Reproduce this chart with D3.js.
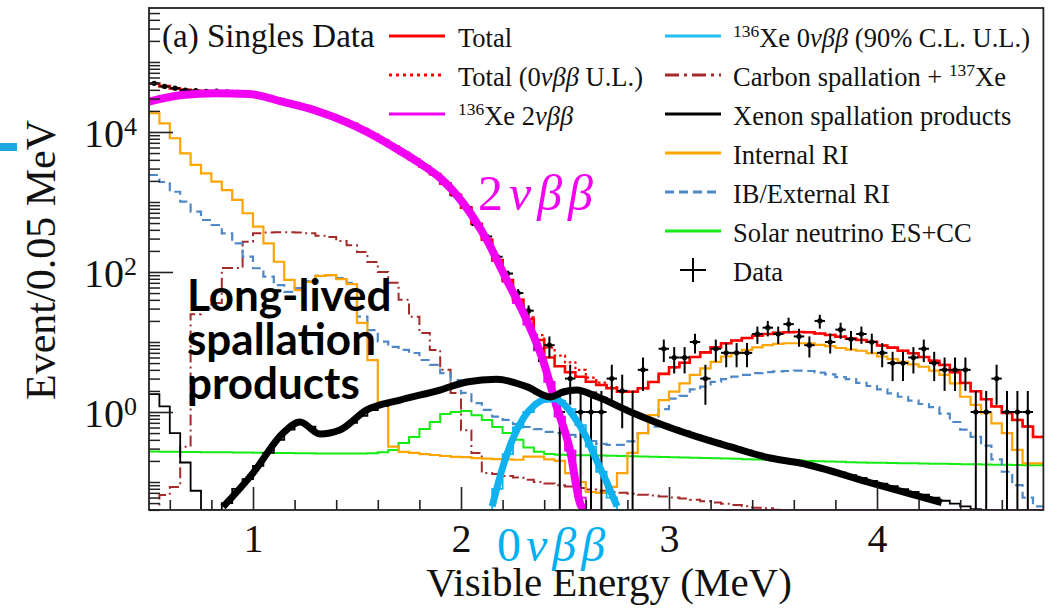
<!DOCTYPE html>
<html>
<head>
<meta charset="utf-8">
<script src="https://cdn.jsdelivr.net/npm/d3@7"></script>
<style>
  html, body { margin: 0; padding: 0; background: #fff; }
  svg { display: block; }
</style>
</head>
<body>
<svg id="chart" width="1064" height="616"></svg>
<script>
// ---- Binning (0.05 MeV bins, 0.5 - 4.8 MeV) ----
const binLow = 0.5;
const binWidth = 0.05;

// ---- Histogram contents, events / 0.05 MeV, one value per bin ----
const internalRI = [
  18500, 13300, 8130, 4960, 3380, 2570, 1950, 1480, 1070, 690,
  444, 257, 140, 77, 55, 72, 88, 90, 79, 67,
  18.7, 5.5, 1.39, 0.32, 0.27, 0.26, 0.25, 0.243, 0.235, 0.228,
  0.226, 0.22, 0.216, 0.212, 0.21, 0.208, 0.23, 0.23, 0.21, 0.2,
  0.134, 0.1, 0.072, 0.07, 0.085, 0.134, 0.26, 0.5, 0.9, 1.48,
  1.95, 2.57, 3.38, 4.2, 5.2, 6.2, 6.9, 7.7, 8.4, 9.0,
  9.4, 9.6, 9.6, 9.6, 9.1, 8.7, 8.2, 7.8, 7.5, 6.9,
  6.2, 5.7, 5.2, 4.8, 4.43, 3.9, 3.38, 2.57, 1.65, 1.26,
  0.96, 0.69, 0.5, 0.287, 0.185, 0.185
];

const externalRI = [
  2430, 1930, 1400, 1010, 727, 553, 469, 357, 257, 166,
  113, 86, 65, 52, 59, 74, 88, 90, 82, 70,
  23, 14.8, 10.1, 8.5, 7.7, 6.96, 5.53, 4.7, 3.6, 2.86,
  1.87, 1.34, 1.07, 0.86, 0.77, 0.67, 0.61, 0.57, 0.52, 0.5,
  0.47, 0.44, 0.385, 0.35, 0.34, 0.34, 0.38, 0.5, 0.62, 1.1,
  1.55, 1.7, 2.1, 2.3, 2.7, 2.95, 3.2, 3.38, 3.6, 3.72,
  3.8, 3.85, 3.9, 3.85, 3.65, 3.45, 3.15, 2.95, 2.6, 2.35,
  2.1, 1.85, 1.65, 1.45, 1.3, 1.17, 0.95, 0.72, 0.56, 0.44,
  0.33, 0.21, 0.14, 0.09, 0.06, 0.045
];

const carbonSpallation = [
  0.03, 0.065, 0.085, 0.32, 25, 30, 36, 114, 114, 271,
  357, 365, 370, 370, 365, 357, 328, 316, 277, 241,
  193, 139, 100, 70, 40, 23, 13.4, 7.7, 4.0, 1.87,
  0.55, 0.26, 0.134, 0.13, 0.122, 0.116, 0.108, 0.1, 0.095, 0.09,
  0.086, 0.082, 0.078, 0.075, 0.072, 0.07, 0.068, 0.066, 0.064, 0.062,
  0.06, 0.058, 0.056, 0.053, 0.051, 0.049, 0.047, 0.045, 0.043, 0.042,
  0.04, 0.039, 0.038, 0.036, 0.035, 0.03, 0.03, 0.03, 0.03, 0.03,
  0.03, 0.03, 0.03, 0.03, 0.03, 0.03, 0.03, 0.03, 0.03, 0.03,
  0.03, 0.03, 0.03, 0.03, 0.03, 0.03
];

const solarNu = [
  0.272, 0.271, 0.27, 0.269, 0.268, 0.267, 0.266, 0.265, 0.264, 0.263,
  0.262, 0.261, 0.26, 0.259, 0.258, 0.257, 0.256, 0.255, 0.255, 0.255,
  0.256, 0.258, 0.265, 0.287, 0.36, 0.44, 0.57, 0.72, 0.94, 1.0,
  1.03, 0.9, 0.77, 0.61, 0.5, 0.4, 0.31, 0.27, 0.252, 0.245,
  0.243, 0.242, 0.241, 0.24, 0.238, 0.236, 0.234, 0.232, 0.23, 0.228,
  0.226, 0.224, 0.222, 0.22, 0.218, 0.216, 0.214, 0.212, 0.21, 0.208,
  0.206, 0.204, 0.202, 0.2, 0.198, 0.196, 0.194, 0.192, 0.19, 0.189,
  0.188, 0.187, 0.186, 0.185, 0.184, 0.183, 0.182, 0.181, 0.18, 0.179,
  0.178, 0.177, 0.176, 0.175, 0.174, 0.173
];

const xeSpallationHist = [
  1.8, 1.2, 0.5, 0.19, 0.075, 0.02, 0.02, 0.05, 0.08, 0.11,
  0.17, 0.26, 0.4, 0.56, 0.7, 0.62, 0.5, 0.5, 0.57, 0.7,
  0.88, 1.06, 1.22, 1.37, 1.52, 1.67, 1.83, 1.98, 2.15, 2.36,
  2.6, 2.78, 2.88, 2.9, 2.8, 2.55, 2.2, 1.85, 1.62, 1.78,
  1.95, 2.02, 1.9, 1.6, 1.35, 1.15, 0.98, 0.85, 0.74, 0.66,
  0.59, 0.53, 0.47, 0.42, 0.38, 0.34, 0.31, 0.28, 0.255, 0.232,
  0.214, 0.2, 0.188, 0.174, 0.16, 0.148, 0.136, 0.125, 0.114, 0.104,
  0.095, 0.087, 0.079, 0.072, 0.066, 0.06, 0.054, 0.049, 0.045, 0.041,
  0.038, 0.035, 0.032, 0.03, 0.028, 0.026
];

const twoNuHist = [
  28000, 30000, 32200, 34000, 34600, 35200, 35700, 35600, 35400, 35050,
  32600, 30100, 27700, 25500, 23300, 21300, 19000, 16700, 14700, 12700,
  10800, 9040, 7430, 6110, 4970, 4020, 3190, 2500, 1830, 1260,
  825, 483, 286, 143, 72, 36, 17.7, 7.6, 2.7, 0.86,
  0.28, 0.06, 0, 0, 0, 0, 0, 0, 0, 0,
  0, 0, 0, 0, 0, 0, 0, 0, 0, 0,
  0, 0, 0, 0, 0, 0, 0, 0, 0, 0,
  0, 0, 0, 0, 0, 0, 0, 0, 0, 0,
  0, 0, 0, 0, 0, 0
];

// 0nbb upper-limit histogram, bins from 2.10 MeV
const zeroNuHistStart = 2.10;
const zeroNuHist = [0, 0.08, 0.25, 0.6, 1.0, 1.38, 1.55, 1.45, 1.1, 0.65, 0.32, 0.14, 0.06, 0.03, 0];

const totalFit = [
  48900, 45200, 41700, 40000, 38700, 38350, 38150, 37550, 36840, 36180,
  33510, 30810, 28280, 26000, 23780, 21800, 19500, 17200, 15140, 13080,
  11035, 9200, 7540, 6190, 5020, 4050, 3210, 2512, 1840, 1266,
  830, 488, 291, 148, 76.5, 40, 21.2, 10.7, 6.0, 4.5,
  3.7, 3.19, 2.71, 2.43, 2.18, 1.95, 1.95, 2.18, 2.68, 3.5,
  4.35, 5.05, 6.1, 7.1, 8.4, 9.6, 10.5, 11.4, 12.3, 13.0,
  13.5, 13.8, 13.9, 13.8, 13.2, 12.6, 11.9, 11.2, 10.7, 10.1,
  8.9, 8.3, 7.5, 6.9, 6.1, 5.4, 4.7, 3.7, 2.6, 1.98,
  1.52, 1.2, 0.97, 0.77, 0.62, 0.44
];

const totalWithUL = [
  48900, 45200, 41700, 40000, 38700, 38350, 38150, 37550, 36840, 36180,
  33510, 30810, 28280, 26000, 23780, 21800, 19500, 17200, 15140, 13080,
  11035, 9200, 7540, 6190, 5020, 4050, 3210, 2512, 1840, 1266,
  830, 488, 291, 148, 76.5, 40, 22.5, 12.5, 8.3, 6.4,
  5.1, 4.0, 3.1, 2.62, 2.26, 1.98, 1.95, 2.18, 2.68, 3.5,
  4.35, 5.05, 6.1, 7.1, 8.4, 9.6, 10.5, 11.4, 12.3, 13.0,
  13.5, 13.8, 13.9, 13.8, 13.2, 12.6, 11.9, 11.2, 10.7, 10.1,
  8.9, 8.3, 7.5, 6.9, 6.1, 5.4, 4.7, 3.7, 2.6, 1.98,
  1.52, 1.2, 0.97, 0.77, 0.62, 0.44
];

// Observed counts per bin
const dataCounts = [
  49500, 44800, 42300, 39600, 38900, 38100, 38400, 37300, 36900, 36000,
  33700, 30600, 28500, 25800, 23900, 21600, 19700, 17000, 15300, 12900,
  11100, 9150, 7600, 6150, 5080, 3990, 3260, 2470, 1870, 1240,
  845, 470, 320, 165, 95, 50, 28, 8, 9, 1,
  3, 1, 1, 1, 3, 2, 1, 4, 0, 8,
  6, 6, 10, 3, 8, 7, 7, 7, 13, 16,
  13, 18, 12, 9, 20, 10, 15, 11, 13, 10,
  7, 5, 5, 6, 8, 5, 4, 4, 4, 1,
  1, 3, 1, 1, 1, 0
];

// ---- Smooth model curves: [energy MeV, events / 0.05 MeV] ----
const twoNuCurveE = [0.5, 0.66, 0.82, 0.98, 1.14, 1.30, 1.46, 1.56, 1.70, 1.80, 1.90, 2.01, 2.124, 2.22, 2.316, 2.394, 2.46, 2.524, 2.572, 2.59];
const twoNuCurveV = [27100, 33800, 35700, 35000, 27100, 20300, 13400, 9600, 5530, 3600, 2200, 968, 287, 77, 20.6, 5.5, 1.19, 0.286, 0.05, 0.03];

const zeroNuCurveE = [2.15, 2.20, 2.25, 2.30, 2.35, 2.40, 2.45, 2.50, 2.55, 2.60, 2.65, 2.70, 2.75];
const zeroNuCurveV = [0.045, 0.16, 0.42, 0.82, 1.22, 1.5, 1.55, 1.25, 0.8, 0.45, 0.21, 0.1, 0.045];

const xeSpallCurveE = [0.856, 1.0, 1.144, 1.226, 1.322, 1.418, 1.547, 1.707, 1.899, 2.027, 2.172, 2.316, 2.428, 2.49, 2.556, 2.652, 2.813, 2.971, 3.133, 3.293, 3.486, 3.63, 3.966, 4.311];
const xeSpallCurveV = [0.044, 0.134, 0.5, 0.72, 0.485, 0.553, 1.07, 1.48, 2.06, 2.68, 2.93, 2.30, 1.64, 1.93, 2.06, 1.66, 1.01, 0.652, 0.444, 0.319, 0.22, 0.187, 0.098, 0.0506];

// ---- Axis tick labels ----
const xTickValues = [1, 2, 3, 4];
const xTickLabels = ["1", "2", "3", "4"];
const yTickExponents = [0, 2, 4];

// ---- Layout ----
const svg = d3.select("#chart");
const frame = { left: 149, right: 1043.4, top: 8, bottom: 510 };
const serif = "'Liberation Serif', 'Times New Roman', serif";

const x = d3.scaleLinear().domain([0.5, 4.8]).range([frame.left, frame.right]);
const y = d3.scaleLog()
  .domain([Math.pow(10, -1.4), Math.pow(10, 5.771)])
  .range([frame.bottom, frame.top])
  .clamp(true);

svg.append("defs").append("clipPath").attr("id", "plotClip")
  .append("rect")
  .attr("x", frame.left).attr("y", frame.top)
  .attr("width", frame.right - frame.left).attr("height", frame.bottom - frame.top);

const plot = svg.append("g").attr("clip-path", "url(#plotClip)");

// Step outline of a histogram
function histPath(values, start) {
  const pts = values.map((v, i) => ({ e: start + i * binWidth, v }));
  pts.push({ e: start + values.length * binWidth, v: values[values.length - 1] });
  return d3.line()
    .x(d => x(d.e))
    .y(d => y(d.v))
    .curve(d3.curveStepAfter)(pts);
}

function drawHist(values, start, color, width, dash) {
  plot.append("path")
    .attr("d", histPath(values, start))
    .attr("fill", "none")
    .attr("stroke", color)
    .attr("stroke-width", width)
    .attr("stroke-dasharray", dash || null)
    .attr("stroke-linejoin", "miter");
}

const smoothLine = d3.line()
  .x(d => x(d[0]))
  .y(d => y(d[1]))
  .curve(d3.curveMonotoneX);

function drawCurve(es, vs, color, width) {
  plot.append("path")
    .attr("d", smoothLine(es.map((e, i) => [e, vs[i]])))
    .attr("fill", "none")
    .attr("stroke", color)
    .attr("stroke-width", width)
    .attr("stroke-linecap", "butt");
}

const C = {
  red: "#ff0000",
  magenta: "#f200f2",
  cyan: "#0fb2ee",
  brown: "#a52a2a",
  orange: "#ffa500",
  blue: "#4f88c6",
  green: "#14ec14",
  black: "#000000"
};

// Background components
drawHist(solarNu, binLow, C.green, 2);
drawHist(carbonSpallation, binLow, C.brown, 2, "11,4,2,4");
drawHist(externalRI, binLow, C.blue, 2.2, "9,5");
drawHist(internalRI, binLow, C.orange, 2.2);
drawHist(xeSpallationHist, binLow, C.black, 1.8);
drawHist(twoNuHist, binLow, C.magenta, 1.8);
drawHist(zeroNuHist, zeroNuHistStart, C.cyan, 1.8);

// Fit totals
drawHist(totalFit, binLow, C.red, 2.6);
drawHist(totalWithUL, binLow, C.red, 2.2, "2.5,3");

// Data points with statistical error bars
const dataG = plot.append("g");
dataCounts.forEach((n, i) => {
  if (n <= 0) return;
  const e0 = binLow + i * binWidth;
  const ec = e0 + binWidth / 2;
  const err = Math.sqrt(n);
  dataG.append("line")
    .attr("x1", x(ec)).attr("x2", x(ec))
    .attr("y1", y(n + err)).attr("y2", y(Math.max(n - err, 1e-6)))
    .attr("stroke", "#000").attr("stroke-width", 2);
  dataG.append("line")
    .attr("x1", x(e0)).attr("x2", x(e0 + binWidth))
    .attr("y1", y(n)).attr("y2", y(n))
    .attr("stroke", "#000").attr("stroke-width", 2);
  dataG.append("circle")
    .attr("cx", x(ec)).attr("cy", y(n)).attr("r", 2.6)
    .attr("fill", "#000");
});

// Smooth spectral shapes
drawCurve(twoNuCurveE, twoNuCurveV, C.magenta, 8);
drawCurve(zeroNuCurveE, zeroNuCurveV, C.cyan, 7);
drawCurve(xeSpallCurveE, xeSpallCurveV, C.black, 7);

// ---- Axes ----
const axisColor = "#222";
const xMinorTicks = d3.range(0.6, 4.8, 0.2).filter(v => Math.abs(v - Math.round(v)) > 1e-6);

svg.append("g")
  .attr("transform", `translate(0,${frame.bottom})`)
  .call(d3.axisBottom(x).tickValues(xMinorTicks).tickSize(-10).tickFormat(""))
  .call(g => g.select(".domain").remove())
  .call(g => g.selectAll("line").attr("stroke", axisColor).attr("stroke-width", 1.6));

svg.append("g")
  .attr("transform", `translate(0,${frame.bottom})`)
  .call(d3.axisBottom(x).tickValues(xTickValues).tickSize(-23).tickPadding(14)
    .tickFormat((d, i) => xTickLabels[i]))
  .call(g => g.select(".domain").remove())
  .call(g => g.selectAll("line").attr("stroke", axisColor).attr("stroke-width", 1.6))
  .call(g => g.selectAll("text")
    .attr("font-family", serif).attr("font-size", 40).attr("fill", "#111"));

// Log minor ticks
const yMinor = [];
for (let k = -2; k <= 5; k++) {
  for (let m = 1; m <= 9; m++) {
    const v = m * Math.pow(10, k);
    if (v >= y.domain()[0] && v <= y.domain()[1] && !(m === 1 && k % 2 === 0 && k >= 0 && k <= 4)) yMinor.push(v);
  }
}
svg.append("g")
  .attr("transform", `translate(${frame.left},0)`)
  .call(d3.axisLeft(y).tickValues(yMinor).tickSize(-11).tickFormat(""))
  .call(g => g.select(".domain").remove())
  .call(g => g.selectAll("line").attr("stroke", axisColor).attr("stroke-width", 1.5));

const yMajor = yTickExponents.map(p => Math.pow(10, p));
const yAxisG = svg.append("g")
  .attr("transform", `translate(${frame.left},0)`)
  .call(d3.axisLeft(y).tickValues(yMajor).tickSize(-24).tickPadding(12).tickFormat(""))
  .call(g => g.select(".domain").remove())
  .call(g => g.selectAll("line").attr("stroke", axisColor).attr("stroke-width", 1.6));

yAxisG.selectAll(".tick text").each(function (d, i) {
  const t = d3.select(this)
    .attr("font-family", serif).attr("font-size", 40).attr("fill", "#111")
    .attr("dy", "0.37em");
  t.append("tspan").text("10");
  t.append("tspan").attr("font-size", 26).attr("dy", -12).text(String(yTickExponents[i]));
});

// Frame
svg.append("rect")
  .attr("x", frame.left).attr("y", frame.top)
  .attr("width", frame.right - frame.left).attr("height", frame.bottom - frame.top)
  .attr("fill", "none").attr("stroke", axisColor).attr("stroke-width", 1.8);

// Axis titles
svg.append("text")
  .attr("x", 609).attr("y", 596)
  .attr("text-anchor", "middle")
  .attr("font-family", serif).attr("font-size", 41).attr("fill", "#111")
  .text("Visible Energy (MeV)");

svg.append("text")
  .attr("transform", "translate(55,260) rotate(-90)")
  .attr("text-anchor", "middle")
  .attr("font-family", serif).attr("font-size", 42).attr("fill", "#111")
  .text("Event/0.05 MeV");

// ---- Legend ----
function rich(textSel, parts, size) {
  let raised = false;
  parts.forEach(p => {
    const ts = textSel.append("tspan").text(p.t);
    if (p.it) ts.attr("font-style", "italic");
    if (p.sup) {
      ts.attr("font-size", size * 0.66).attr("dy", -size * 0.36);
      raised = true;
    } else if (raised) {
      ts.attr("dy", size * 0.36);
      raised = false;
    }
  });
}

const legendSize = 26.5;
const rowY = i => 36 + 39 * i;

svg.append("text")
  .attr("x", 162).attr("y", 47)
  .attr("font-family", serif).attr("font-size", 33).attr("fill", "#111")
  .text("(a) Singles Data");

const legendEntries = [
  { col: 0, row: 0, color: C.red, width: 3, dash: null, parts: [{ t: "Total" }] },
  { col: 0, row: 1, color: C.red, width: 3, dash: "3,4", parts: [{ t: "Total (0" }, { t: "\u03BD\u03B2\u03B2", it: true }, { t: " U.L.)" }] },
  { col: 0, row: 2, color: C.magenta, width: 3, dash: null, parts: [{ t: "136", sup: true }, { t: "Xe 2" }, { t: "\u03BD\u03B2\u03B2", it: true }] },
  { col: 1, row: 0, color: "#22bff0", width: 3, dash: null, parts: [{ t: "136", sup: true }, { t: "Xe 0" }, { t: "\u03BD\u03B2\u03B2", it: true }, { t: " (90% C.L. U.L.)" }] },
  { col: 1, row: 1, color: C.brown, width: 3, dash: "14,5,3,5", parts: [{ t: "Carbon spallation + " }, { t: "137", sup: true }, { t: "Xe" }] },
  { col: 1, row: 2, color: C.black, width: 3, dash: null, parts: [{ t: "Xenon spallation products" }] },
  { col: 1, row: 3, color: C.orange, width: 3, dash: null, parts: [{ t: "Internal RI" }] },
  { col: 1, row: 4, color: C.blue, width: 3, dash: "9,5", parts: [{ t: "IB/External RI" }] },
  { col: 1, row: 5, color: C.green, width: 3, dash: null, parts: [{ t: "Solar neutrino ES+CC" }] },
  { col: 1, row: 6, color: null, parts: [{ t: "Data" }] }
];
const legendCols = [
  { x1: 389, x2: 445, tx: 458 },
  { x1: 665, x2: 721, tx: 733 }
];

const legend = svg.append("g");
legendEntries.forEach(en => {
  const col = legendCols[en.col];
  const yy = rowY(en.row);
  if (en.color) {
    legend.append("line")
      .attr("x1", col.x1).attr("x2", col.x2).attr("y1", yy).attr("y2", yy)
      .attr("stroke", en.color).attr("stroke-width", en.width)
      .attr("stroke-dasharray", en.dash);
  } else {
    const cx = (col.x1 + col.x2) / 2;
    legend.append("line").attr("x1", cx - 13).attr("x2", cx + 13).attr("y1", yy).attr("y2", yy)
      .attr("stroke", "#000").attr("stroke-width", 2);
    legend.append("line").attr("x1", cx).attr("x2", cx).attr("y1", yy - 12).attr("y2", yy + 12)
      .attr("stroke", "#000").attr("stroke-width", 2);
  }
  const t = legend.append("text")
    .attr("x", col.tx).attr("y", yy + 10.5)
    .attr("font-family", serif).attr("font-size", legendSize).attr("fill", "#111");
  rich(t, en.parts, legendSize);
});

// ---- Annotations ----
const twoNuLabel = svg.append("text")
  .attr("x", 478).attr("y", 210)
  .attr("font-family", serif).attr("font-size", 50).attr("fill", C.magenta)
  .attr("letter-spacing", 6);
twoNuLabel.append("tspan").text("2");
twoNuLabel.append("tspan").attr("font-style", "italic").text("\u03BD\u03B2\u03B2");

const zeroNuLabel = svg.append("text")
  .attr("x", 497).attr("y", 561)
  .attr("font-family", serif).attr("font-size", 48).attr("fill", "#00b0f0")
  .attr("letter-spacing", 5);
zeroNuLabel.append("tspan").text("0");
zeroNuLabel.append("tspan").attr("font-style", "italic").text("\u03BD\u03B2\u03B2");

const spallLines = ["Long-lived", "spallation", "products"];
svg.append("g").selectAll("text")
  .data(spallLines)
  .join("text")
  .attr("x", 187)
  .attr("y", (d, i) => 311 + 44 * i)
  .attr("font-family", "Lato, 'Open Sans', sans-serif")
  .attr("font-weight", 700)
  .attr("font-size", 44)
  .attr("fill", "#000")
  .text(d => d);

// Small marker at the left edge
svg.append("rect")
  .attr("x", 0).attr("y", 143).attr("width", 17).attr("height", 8)
  .attr("fill", "#1ea7e0");
</script>
</body>
</html>
